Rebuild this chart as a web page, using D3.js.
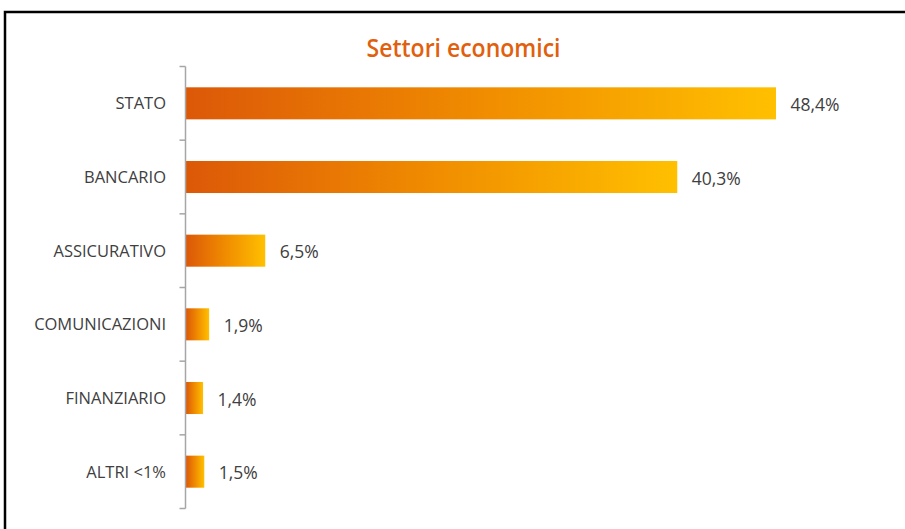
<!DOCTYPE html>
<html>
<head>
<meta charset="utf-8">
<script src="https://cdn.jsdelivr.net/npm/d3@7"></script>
<style>
  html, body { margin: 0; padding: 0; background: #fff; }
  svg { display: block; }
</style>
</head>
<body>
<svg id="chart" width="905" height="529"></svg>
<script>
// Economic sectors, share in percent
const sectors = ["STATO", "BANCARIO", "ASSICURATIVO", "COMUNICAZIONI", "FINANZIARIO", "ALTRI <1%"];
const shares = [48.4, 40.3, 6.5, 1.9, 1.4, 1.5];
const shareLabels = ["48,4%", "40,3%", "6,5%", "1,9%", "1,4%", "1,5%"];
const chartTitle = "Settori economici";

const svg = d3.select("#chart");
const W = 905, H = 529;

// outer frame
svg.append("rect")
  .attr("x", 5).attr("y", 12)
  .attr("width", W + 10).attr("height", H + 10)
  .attr("fill", "#fff")
  .attr("stroke", "#000")
  .attr("stroke-width", 2.5);

const margin = { left: 185.5, top: 66.5, bottom: 508.5 };

const y = d3.scaleBand()
  .domain(sectors)
  .range([margin.top, margin.bottom])
  .paddingInner(0.565)
  .paddingOuter(0.2825);

const x = d3.scaleLinear()
  .domain([0, 48.4])
  .range([margin.left + 0.5, 776]);

// gradient per bar, from deep orange to amber
const defs = svg.append("defs");
const grad = defs.append("linearGradient")
  .attr("id", "barGrad")
  .attr("x1", "0%").attr("x2", "100%")
  .attr("y1", "0%").attr("y2", "0%");
grad.append("stop").attr("offset", "0%").attr("stop-color", "#DC5808");
grad.append("stop").attr("offset", "50%").attr("stop-color", "#F08C00");
grad.append("stop").attr("offset", "100%").attr("stop-color", "#FFC000");

const data = sectors.map((s, i) => ({ sector: s, value: shares[i], label: shareLabels[i] }));

svg.append("g")
  .selectAll("rect")
  .data(data)
  .join("rect")
  .attr("x", x(0))
  .attr("y", d => y(d.sector))
  .attr("width", d => x(d.value) - x(0))
  .attr("height", y.bandwidth())
  .attr("fill", "url(#barGrad)");

// category axis with ticks between bands
const axisG = svg.append("g").attr("transform", `translate(${margin.left},0)`);
axisG.append("line")
  .attr("x1", 0).attr("x2", 0)
  .attr("y1", margin.top).attr("y2", margin.bottom)
  .attr("stroke", "#A6A6A6").attr("stroke-width", 1.5);
const tickYs = d3.range(sectors.length + 1).map(i => margin.top + i * (margin.bottom - margin.top) / sectors.length);
axisG.selectAll("line.tick")
  .data(tickYs)
  .join("line")
  .attr("class", "tick")
  .attr("x1", -6).attr("x2", 0)
  .attr("y1", d => d).attr("y2", d => d)
  .attr("stroke", "#A6A6A6").attr("stroke-width", 1.5);

const font = "'Open Sans', 'DejaVu Sans', sans-serif";

// category labels
svg.append("g")
  .selectAll("text")
  .data(data)
  .join("text")
  .attr("x", 166)
  .attr("y", d => y(d.sector) + y.bandwidth() / 2)
  .attr("dy", "0.36em")
  .attr("text-anchor", "end")
  .attr("font-family", font)
  .attr("font-size", 16.5)
  .attr("fill", "#404040")
  .text(d => d.sector);

// value labels
svg.append("g")
  .selectAll("text")
  .data(data)
  .join("text")
  .attr("x", d => x(d.value) + 14.5)
  .attr("y", d => y(d.sector) + y.bandwidth() / 2)
  .attr("dy", "0.43em")
  .attr("font-family", font)
  .attr("font-size", 17.5)
  .attr("fill", "#404040")
  .text(d => d.label);

// title
svg.append("text")
  .attr("x", 463.5)
  .attr("y", 56.5)
  .attr("text-anchor", "middle")
  .attr("font-family", font)
  .attr("font-size", 25)
  .attr("font-weight", 600)
  .attr("textLength", 194)
  .attr("lengthAdjust", "spacingAndGlyphs")
  .attr("fill", "#E0600E")
  .text(chartTitle);
</script>
</body>
</html>
